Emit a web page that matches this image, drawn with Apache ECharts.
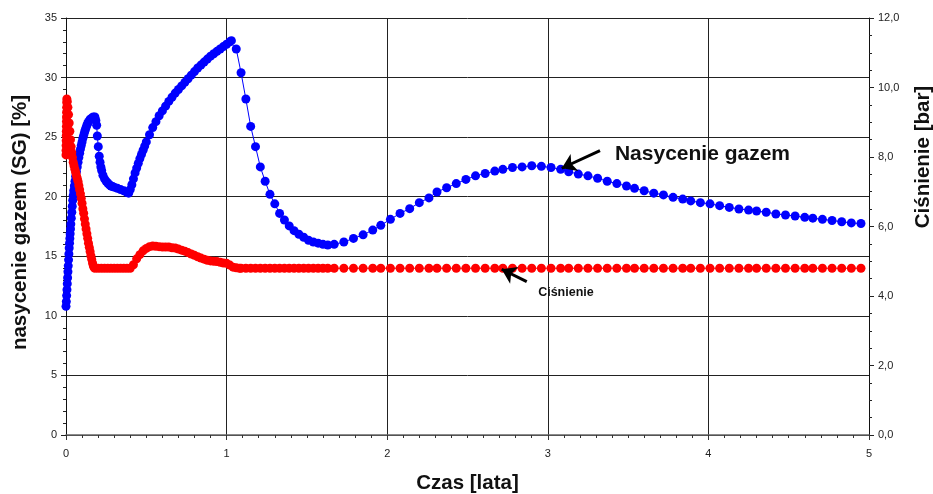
<!DOCTYPE html>
<html>
<head>
<meta charset="utf-8">
<script src="https://cdn.jsdelivr.net/npm/echarts@6/dist/echarts.min.js"></script>
<style>html,body{margin:0;padding:0;background:#fff}#c{width:933px;height:494px}</style>
</head>
<body>
<div id="c"></div>
<script>
// ---- data (time in years) ----
const lateTime = [1.73,1.79,1.85,1.91,1.96,2.02,2.08,2.14,2.20,2.26,2.31,2.37,2.43,2.49,2.55,2.61,2.67,2.72,2.78,2.84,2.90,2.96,3.02,3.08,3.13,3.19,3.25,3.31,3.37,3.43,3.49,3.54,3.60,3.66,3.72,3.78,3.84,3.89,3.95,4.01,4.07,4.13,4.19,4.25,4.30,4.36,4.42,4.48,4.54,4.60,4.65,4.71,4.77,4.83,4.89,4.95];

const sgTimeEarly = [0,0.002,0.004,0.006,0.008,0.010,0.012,0.014,0.016,0.018,0.020,0.022,0.024,0.026,0.028,0.030,0.033,0.036,0.039,0.042,0.045,0.048,0.052,0.056,0.060,0.065,0.070,0.075,0.080,0.085,0.090,0.095,0.100,0.105,0.110,0.115,0.120,0.125,0.130,0.135,0.140,0.150,0.160,0.170,0.180,0.186,0.191,0.195,0.201,0.207,0.212,0.217,0.222,0.230,0.240,0.250,0.260,0.270,0.280,0.290,0.300,0.320,0.340,0.360,0.380,0.390,0.400,0.410,0.420,0.430,0.440,0.450,0.460,0.470,0.480,0.490,0.500,0.52,0.54,0.56,0.58,0.60,0.62,0.64,0.66,0.68,0.70,0.72,0.74,0.76,0.78,0.80,0.82,0.84,0.86,0.88,0.90,0.92,0.94,0.96,0.98,1.00,1.02,1.03,1.06,1.09,1.12,1.15,1.18,1.21,1.24,1.27,1.30,1.33,1.36,1.39,1.42,1.45,1.48,1.51,1.54,1.57,1.60,1.63,1.67];
const sgValueEarly = [10.8,11.2,11.7,12.2,12.7,13.2,13.7,14.2,14.7,15.2,15.7,16.1,16.5,16.9,17.3,17.7,18.2,18.7,19.2,19.7,20.1,20.5,20.9,21.3,21.7,22.1,22.5,22.9,23.3,23.65,24.0,24.3,24.6,24.9,25.15,25.4,25.6,25.8,26.0,26.15,26.3,26.5,26.6,26.7,26.7,26.4,26.0,25.1,24.2,23.4,22.9,22.5,22.2,21.8,21.5,21.3,21.15,21.0,20.9,20.85,20.8,20.7,20.6,20.5,20.35,20.3,20.6,21.0,21.5,22.0,22.4,22.8,23.2,23.55,23.9,24.25,24.6,25.2,25.8,26.3,26.8,27.2,27.6,28.0,28.35,28.7,29.0,29.3,29.6,29.9,30.2,30.5,30.8,31.05,31.3,31.55,31.8,32.0,32.2,32.4,32.6,32.8,33.0,33.1,32.4,30.4,28.2,25.9,24.2,22.5,21.3,20.2,19.4,18.6,18.05,17.55,17.15,16.85,16.6,16.35,16.2,16.1,16.0,15.95,16.0];
const sgValueLate = [16.2,16.5,16.8,17.2,17.6,18.1,18.6,19.0,19.5,19.9,20.4,20.75,21.1,21.45,21.75,21.95,22.15,22.3,22.45,22.5,22.6,22.55,22.45,22.3,22.1,21.9,21.75,21.55,21.3,21.1,20.9,20.7,20.5,20.3,20.15,19.95,19.8,19.65,19.5,19.4,19.25,19.1,18.97,18.88,18.8,18.7,18.55,18.47,18.38,18.27,18.2,18.1,18.0,17.9,17.8,17.75];

const pTimeEarly = [0,0.0004,0.0008,0.0012,0.0016,0.002,0.0024,0.0028,0.0032,0.0036,0.004,0.0045,0.005,0.008,0.012,0.016,0.020,0.024,0.028,0.032,0.036,0.040,0.045,0.050,0.055,0.060,0.065,0.070,0.075,0.080,0.085,0.090,0.095,0.100,0.105,0.110,0.115,0.120,0.125,0.130,0.135,0.140,0.145,0.150,0.155,0.160,0.165,0.170,0.175,0.180,0.20,0.22,0.24,0.26,0.28,0.30,0.32,0.34,0.36,0.38,0.40,0.42,0.44,0.46,0.48,0.50,0.52,0.54,0.56,0.58,0.60,0.62,0.64,0.66,0.68,0.70,0.72,0.74,0.76,0.78,0.80,0.82,0.84,0.86,0.88,0.90,0.92,0.94,0.96,0.98,1.00,1.02,1.04,1.06,1.08,1.09,1.12,1.15,1.18,1.21,1.24,1.27,1.30,1.33,1.36,1.39,1.42,1.45,1.48,1.51,1.54,1.57,1.60,1.63,1.67];
const pValueEarly = [8.06,8.19,8.33,8.47,8.61,8.74,8.88,9.02,9.15,9.29,9.43,9.57,9.67,9.60,9.43,9.22,8.98,8.74,8.50,8.30,8.13,7.99,7.85,7.75,7.65,7.56,7.47,7.39,7.30,7.18,7.06,6.94,6.81,6.67,6.51,6.38,6.22,6.07,5.93,5.79,5.66,5.52,5.40,5.28,5.16,5.06,4.95,4.87,4.82,4.80,4.80,4.80,4.80,4.80,4.80,4.80,4.80,4.80,4.80,4.80,4.80,4.90,5.07,5.19,5.30,5.37,5.42,5.44,5.43,5.42,5.41,5.41,5.41,5.39,5.38,5.35,5.32,5.29,5.25,5.21,5.17,5.13,5.09,5.06,5.03,5.01,5.00,4.99,4.97,4.95,4.94,4.89,4.83,4.81,4.80,4.80,4.80,4.80,4.80,4.80,4.80,4.80,4.80,4.80,4.80,4.80,4.80,4.80,4.80,4.80,4.80,4.80,4.80,4.80,4.80];
const pValueLate = [4.8,4.8,4.8,4.8,4.8,4.8,4.8,4.8,4.8,4.8,4.8,4.8,4.8,4.8,4.8,4.8,4.8,4.8,4.8,4.8,4.8,4.8,4.8,4.8,4.8,4.8,4.8,4.8,4.8,4.8,4.8,4.8,4.8,4.8,4.8,4.8,4.8,4.8,4.8,4.8,4.8,4.8,4.8,4.8,4.8,4.8,4.8,4.8,4.8,4.8,4.8,4.8,4.8,4.8,4.8,4.8];

const xTicks = ['0','1','2','3','4','5'];
const sgLabel = 'Nasycenie gazem';
const pLabel = 'Ciśnienie';
const rightTitle = 'Ciśnienie [bar]';

// ---- build ----
function pairs(ts, vs){ return ts.map((t,i)=>[t, vs[i]]); }
const sgData = pairs(sgTimeEarly.concat(lateTime), sgValueEarly.concat(sgValueLate));
const pData = pairs(pTimeEarly.concat(lateTime), pValueEarly.concat(pValueLate));

const FONT = 'Arial, "Liberation Sans", sans-serif';
const chart = echarts.init(document.getElementById('c'), null, {renderer:'canvas'});
const axisLbl = {color:'#222', fontSize:11, fontFamily:FONT};
const nameStyle = {fontSize:20.5, fontWeight:'bold', color:'#111', fontFamily:FONT};
const option = {
  animation:false,
  backgroundColor:'#fff',
  grid:{left:66, right:64, top:18, bottom:59, containLabel:false, outerBoundsMode:'none'},
  xAxis:{
    type:'value', min:0, max:5, interval:1,
    name:'Czas [lata]', nameLocation:'middle', nameGap:38,
    nameTextStyle:nameStyle,
    axisLine:{show:true, onZero:false, lineStyle:{color:'#666', width:1.5}},
    axisTick:{show:true, length:5, inside:false, lineStyle:{color:'#333'}},
    minorTick:{show:true, splitNumber:10, length:3, lineStyle:{color:'#333'}},
    axisLabel:Object.assign({margin:13, formatter:(v)=>xTicks[Math.round(v)]}, axisLbl),
    splitLine:{show:true, lineStyle:{color:'#222', width:1}}
  },
  yAxis:[{
    type:'value', min:0, max:35, interval:5, position:'left',
    name:'nasycenie gazem (SG) [%]', nameLocation:'middle', nameGap:35, nameRotate:90,
    nameTextStyle:Object.assign({padding:[0,0,0,8]}, nameStyle),
    axisLine:{show:true, lineStyle:{color:'#111', width:1}},
    axisTick:{show:true, length:5, lineStyle:{color:'#222'}},
    minorTick:{show:true, splitNumber:5, length:3, lineStyle:{color:'#222'}},
    axisLabel:Object.assign({margin:9}, axisLbl),
    splitLine:{show:true, lineStyle:{color:'#222', width:1}}
  },{
    type:'value', min:0, max:12, interval:2, position:'right',
    axisLine:{show:true, lineStyle:{color:'#111', width:1}},
    axisTick:{show:true, length:5, lineStyle:{color:'#222'}},
    minorTick:{show:true, splitNumber:4, length:3, lineStyle:{color:'#222'}},
    axisLabel:Object.assign({margin:9, formatter:(v)=>v.toFixed(1).replace('.',',')}, axisLbl),
    splitLine:{show:false}
  }],
  series:[{
    name:sgLabel, type:'line', yAxisIndex:0, data:sgData,
    symbol:'circle', symbolSize:9, showAllSymbol:true,
    itemStyle:{color:'#0000ff'}, lineStyle:{color:'#0000ff', width:1},
    markLine:{
      silent:true, symbol:['none','arrow'], symbolSize:14,
      label:{show:false},
      lineStyle:{color:'#000', width:3, type:'solid'},
      data:[
        [{coord:[3.325,23.86]},{coord:[3.087,22.39]}],
        [{coord:[2.869,12.87]},{coord:[2.713,13.91]}]
      ]
    }
  },{
    name:pLabel, type:'line', yAxisIndex:1, data:pData,
    symbol:'circle', symbolSize:9, showAllSymbol:true,
    itemStyle:{color:'#ff0000'}, lineStyle:{color:'#ff0000', width:1}
  }]
};
chart.setOption(option);

const a = chart.convertToPixel({xAxisIndex:0, yAxisIndex:0}, [3.418, 23.6]);
const b = chart.convertToPixel({xAxisIndex:0, yAxisIndex:0}, [3.113, 11.92]);
const r = chart.convertToPixel({xAxisIndex:0, yAxisIndex:1}, [5, 8.0]);
chart.setOption({graphic:[
  {type:'text', x:a[0], y:a[1], style:{text:sgLabel, font:'bold 21px '+FONT, fill:'#111', align:'left', verticalAlign:'middle'}},
  {type:'text', x:b[0], y:b[1], style:{text:pLabel, font:'bold 12.5px '+FONT, fill:'#111', align:'center', verticalAlign:'middle'}},
  {type:'text', x:r[0]+54, y:r[1], rotation:Math.PI/2, style:{text:rightTitle, font:'bold 20.5px '+FONT, fill:'#111', align:'center', verticalAlign:'middle'}}
]});
</script>
</body>
</html>
